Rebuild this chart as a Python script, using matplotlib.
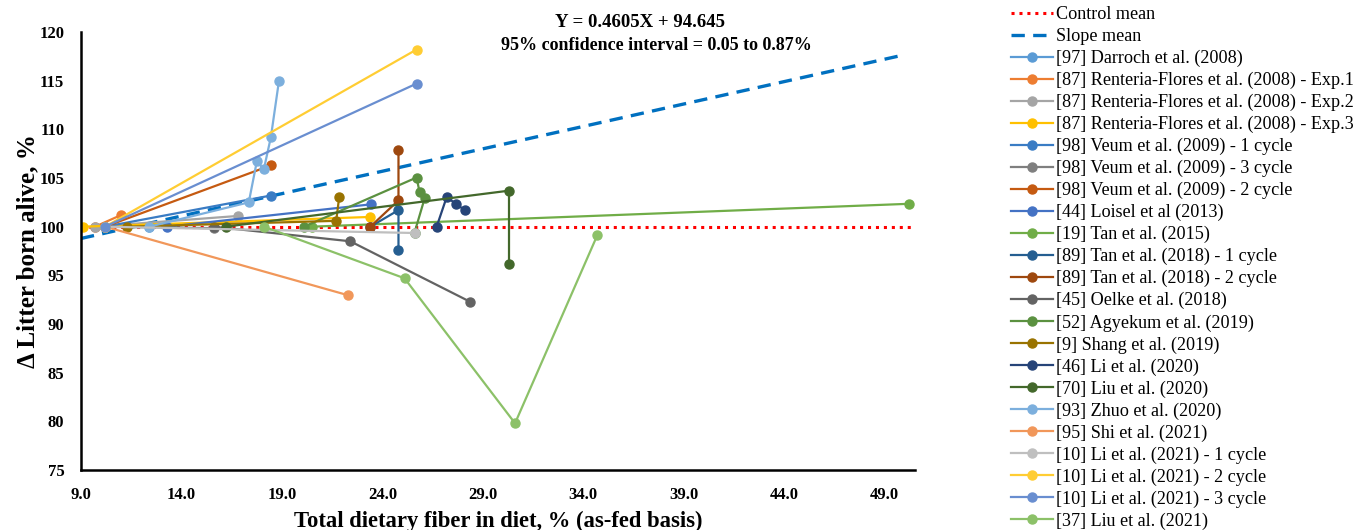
import numpy as np
import matplotlib.pyplot as plt

plt.rcParams['font.family'] = ['Liberation Serif', 'DejaVu Serif']

# Datos (x = fibra dietaria total %, y = lechones nacidos vivos relativo al control)
darroch_x = [10.2, 12.4]
darroch_y = [100.0, 100.0]
renteria1_x = [9.7, 11.0]
renteria1_y = [100.0, 101.2]
renteria2_x = [9.7, 16.8]
renteria2_y = [100.0, 101.1]
renteria3_x = [9.1, 23.4]
renteria3_y = [100.0, 101.0]
veum1_x = [10.2, 18.45]
veum1_y = [100.0, 103.2]
veum3_x = [10.2, 15.6]
veum3_y = [100.0, 99.85]
veum2_x = [10.2, 18.45]
veum2_y = [100.0, 106.3]
loisel_x = [13.3, 23.45]
loisel_y = [100.0, 102.3]
tan2015_x = [20.5, 50.2]
tan2015_y = [100.0, 102.35]
tan2018_1_x = [23.4, 24.8, 24.8]
tan2018_1_y = [100.0, 101.7, 97.6]
tan2018_2_x = [23.4, 24.8, 24.8]
tan2018_2_y = [100.0, 102.7, 107.85]
oelke_x = [15.6, 22.4, 28.35]
oelke_y = [100.0, 98.5, 92.3]
agyekum_x = [20.1, 25.7, 25.85, 26.1, 25.6]
agyekum_y = [100.0, 105.05, 103.55, 102.9, 99.4]
shang_x = [11.3, 21.7, 21.85]
shang_y = [100.0, 100.6, 103.05]
li2020_x = [26.7, 27.2, 27.65, 28.1]
li2020_y = [100.0, 103.05, 102.35, 101.7]
liu2020_x = [16.2, 30.3, 30.3]
liu2020_y = [100.0, 103.7, 96.15]
zhuo_x = [12.4, 17.35, 17.75, 18.1, 18.45, 18.85]
zhuo_y = [100.0, 102.5, 106.7, 105.9, 109.2, 114.95]
shi_x = [10.2, 22.3]
shi_y = [100.0, 92.95]
li2021_1_x = [10.2, 25.6]
li2021_1_y = [100.0, 99.35]
li2021_2_x = [10.2, 25.7]
li2021_2_y = [100.0, 118.2]
li2021_3_x = [10.2, 25.7]
li2021_3_y = [100.0, 114.7]
liu2021_x = [18.1, 25.1, 30.6, 34.7]
liu2021_y = [100.0, 94.7, 79.8, 99.15]

labels = ['[97] Darroch et al. (2008)',
          '[87] Renteria-Flores et al. (2008) - Exp.1',
          '[87] Renteria-Flores et al. (2008) - Exp.2',
          '[87] Renteria-Flores et al. (2008) - Exp.3',
          '[98] Veum et al. (2009) - 1 cycle',
          '[98] Veum et al. (2009) - 3 cycle',
          '[98] Veum et al. (2009) - 2 cycle',
          '[44] Loisel et al (2013)',
          '[19] Tan et al. (2015)',
          '[89] Tan et al. (2018) - 1 cycle',
          '[89] Tan et al. (2018) - 2 cycle',
          '[45] Oelke et al. (2018)',
          '[52] Agyekum et al. (2019)',
          '[9] Shang et al. (2019)',
          '[46] Li et al. (2020)',
          '[70] Liu et al. (2020)',
          '[93] Zhuo et al. (2020)',
          '[95] Shi et al. (2021)',
          '[10] Li et al. (2021) - 1 cycle',
          '[10] Li et al. (2021) - 2 cycle',
          '[10] Li et al. (2021) - 3 cycle',
          '[37] Liu et al. (2021)']
xs = [darroch_x, renteria1_x, renteria2_x, renteria3_x, veum1_x, veum3_x, veum2_x,
      loisel_x, tan2015_x, tan2018_1_x, tan2018_2_x, oelke_x, agyekum_x, shang_x,
      li2020_x, liu2020_x, zhuo_x, shi_x, li2021_1_x, li2021_2_x, li2021_3_x, liu2021_x]
ys = [darroch_y, renteria1_y, renteria2_y, renteria3_y, veum1_y, veum3_y, veum2_y,
      loisel_y, tan2015_y, tan2018_1_y, tan2018_2_y, oelke_y, agyekum_y, shang_y,
      li2020_y, liu2020_y, zhuo_y, shi_y, li2021_1_y, li2021_2_y, li2021_3_y, liu2021_y]
colors = ['#5B9BD5', '#ED7D31', '#A5A5A5', '#FFC000', '#3A7CC4', '#7F7F7F', '#C55A11',
          '#4472C4', '#70AD47', '#255E91', '#9E480E', '#636363', '#5B9140', '#997300',
          '#264478', '#43682B', '#7CAFDD', '#F1975A', '#BFBFBF', '#FFCD33', '#698ED0',
          '#8CC168']

# Media de la pendiente
slope = 0.4605
intercept = 94.645
control_mean = 100.0

fig = plt.figure(figsize=(13.68, 5.30), dpi=100)
ax = fig.add_axes([0.0592, 0.1132, 0.6096, 0.8264])

xl = np.array([9.0, 50.5])
ax.plot(xl, [control_mean, control_mean], color='#FF0000', linestyle=(0, (1, 1.6)),
        lw=2.2, label='Control mean')
xs_line = np.array([9.0, 50.0])
ax.plot(xs_line, slope * xs_line + intercept, color='#0070C0', linestyle=(0, (4, 2.5)),
        lw=2.4, label='Slope mean')

for x, y, c, lab in zip(xs, ys, colors, labels):
  ax.plot(x, y, '-o', color=c, lw=1.6, ms=6.5, label=lab)

ax.set_xlim(9.0, 50.5)
ax.set_ylim(75, 120)
ax.set_xticks(np.arange(9.0, 50.0, 5.0))
ax.set_xticklabels(['%.1f' % v for v in np.arange(9.0, 50.0, 5.0)])
ax.set_yticks(np.arange(75, 121, 5))
ax.tick_params(length=0, labelsize=12, pad=12)
for t in ax.get_xticklabels() + ax.get_yticklabels():
  t.set_fontweight('bold')
ax.spines['top'].set_visible(False)
ax.spines['right'].set_visible(False)
ax.spines['left'].set_linewidth(1.8)
ax.spines['bottom'].set_linewidth(1.8)
ax.set_xlabel('Total dietary fiber in diet, % (as-fed basis)', fontsize=16.3, fontweight='bold',
              labelpad=6)
ax.set_ylabel('Δ Litter born alive, %', fontsize=18, fontweight='bold')
ax.yaxis.set_label_coords(-0.05, 0.5)

fig.text(0.468, 0.958, 'Y = 0.4605X + 94.645', ha='center', va='center',
         fontsize=13.5, fontweight='bold')
fig.text(0.480, 0.915, '95% confidence interval = 0.05 to 0.87%', ha='center', va='center',
         fontsize=13, fontweight='bold')

handles, labs = ax.get_legend_handles_labels()
fig.legend(handles, labs, loc='upper left', bbox_to_anchor=(0.734, 1.002), frameon=False,
           fontsize=13.1, handlelength=2.3, labelspacing=0.26, handletextpad=0.17,
           borderaxespad=0)

fig.savefig('out.png', dpi=100)
